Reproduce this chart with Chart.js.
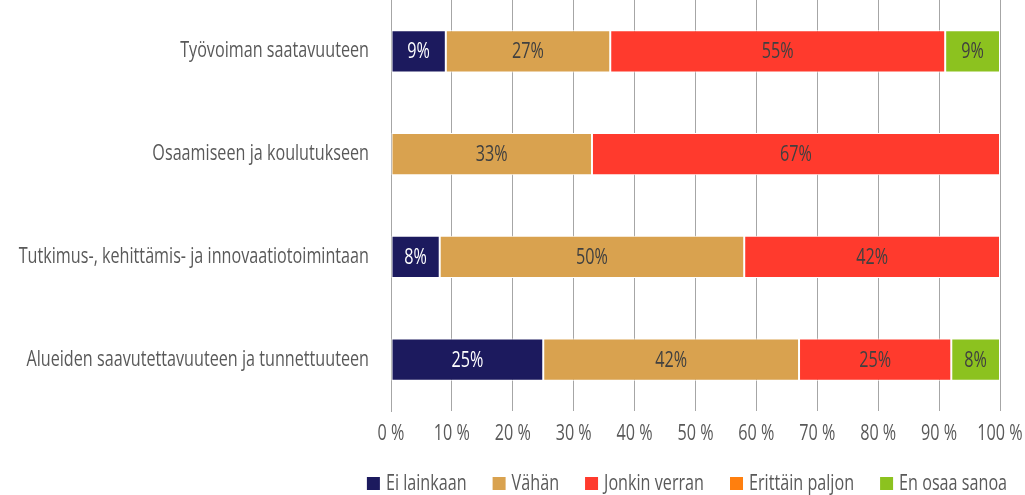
<!DOCTYPE html>
<html>
<head>
<meta charset="utf-8">
<script src="https://cdn.jsdelivr.net/npm/chart.js@4/dist/chart.umd.min.js"></script>
<style>
  html, body { margin: 0; padding: 0; background: #fff; }
  #wrap { width: 1025px; height: 495px; }
</style>
</head>
<body>
<div id="wrap"><canvas id="chart"></canvas></div>
<script>
const categories = [
  'Työvoiman saatavuuteen',
  'Osaamiseen ja koulutukseen',
  'Tutkimus-, kehittämis- ja innovaatiotoimintaan',
  'Alueiden saavutettavuuteen ja tunnettuuteen'
];
const seriesNames = ['Ei lainkaan', 'Vähän', 'Jonkin verran', 'Erittäin paljon', 'En osaa sanoa'];
const eiLainkaan = [9, 0, 8, 25];
const vahan = [27, 33, 50, 42];
const jonkinVerran = [55, 67, 42, 25];
const erittainPaljon = [0, 0, 0, 0];
const enOsaaSanoa = [9, 0, 0, 8];
const xTicks = [0, 10, 20, 30, 40, 50, 60, 70, 80, 90, 100];

const colors = ['#1c1a5e', '#d9a24f', '#ff3a2d', '#ff7f0e', '#8cc21f'];
const labelColors = ['#ffffff', '#404040', '#404040', '#404040', '#404040'];
const TEXT = '#595959';
const FONT = "'Open Sans', sans-serif";
const SIZE = 21;
const SX = 0.77; // horizontal squeeze, the original uses a condensed face

function drawText(ctx, text, x, y, align, size, color) {
  ctx.save();
  ctx.font = size + 'px ' + FONT;
  ctx.fillStyle = color;
  ctx.textAlign = align;
  ctx.textBaseline = 'middle';
  ctx.translate(x, y);
  ctx.scale(SX, 1);
  ctx.fillText(text, 0, 0);
  ctx.restore();
}

function textWidth(ctx, text, size) {
  ctx.save();
  ctx.font = size + 'px ' + FONT;
  const w = ctx.measureText(text).width * SX;
  ctx.restore();
  return w;
}

// axis labels, bar values and legend drawn with the squeezed text
const textLayer = {
  id: 'textLayer',
  afterDraw(chart) {
    const ctx = chart.ctx;
    const xs = chart.scales.x;
    const ys = chart.scales.y;

    chart.data.labels.forEach((lab, i) => {
      drawText(ctx, lab, ys.right - 22, ys.getPixelForTick(i), 'right', SIZE, TEXT);
    });

    xTicks.forEach(v => {
      drawText(ctx, v + ' %', xs.getPixelForValue(v), 434, 'center', SIZE, TEXT);
    });

    chart.data.datasets.forEach((ds, i) => {
      chart.getDatasetMeta(i).data.forEach((bar, j) => {
        const v = ds.data[j];
        if (!v) return;
        const mid = (bar.x + bar.base) / 2;
        drawText(ctx, v + '%', mid, bar.y + 1, 'center', SIZE, labelColors[i]);
      });
    });

    // legend
    const box = 13, gapText = 6, gapItem = 26;
    const widths = seriesNames.map(n => textWidth(ctx, n, SIZE));
    const total = widths.reduce((s, w) => s + box + gapText + w, 0) + gapItem * (seriesNames.length - 1);
    let x = 687 - total / 2;
    seriesNames.forEach((n, i) => {
      ctx.fillStyle = colors[i];
      ctx.fillRect(x, 477, box, box);
      drawText(ctx, n, x + box + gapText, 484, 'left', SIZE, TEXT);
      x += box + gapText + widths[i] + gapItem;
    });
  }
};

const allSeries = [eiLainkaan, vahan, jonkinVerran, erittainPaljon, enOsaaSanoa];

new Chart(document.getElementById('chart'), {
  type: 'bar',
  data: {
    labels: categories,
    datasets: allSeries.map((d, i) => ({
      label: seriesNames[i],
      data: d,
      backgroundColor: colors[i],
      borderColor: '#ffffff',
      borderWidth: 1,
      borderSkipped: false,
      barPercentage: 0.41,
      categoryPercentage: 1
    }))
  },
  options: {
    indexAxis: 'y',
    responsive: true,
    maintainAspectRatio: false,
    animation: false,
    layout: { padding: { top: 0, right: 25, left: 0, bottom: 0 } },
    scales: {
      x: {
        stacked: true,
        min: 0,
        max: 100,
        afterBuildTicks(scale) { scale.ticks = xTicks.map(v => ({ value: v })); },
        afterFit(scale) {
          scale.height = 84;
          scale.paddingLeft = 0;
          scale.paddingRight = 0;
        },
        ticks: { display: false },
        grid: { color: '#a6a6a6', lineWidth: 1, drawTicks: false },
        border: { display: false }
      },
      y: {
        stacked: true,
        afterFit(scale) {
          scale.width = 391;
          scale.paddingTop = 0;
          scale.paddingBottom = 0;
        },
        ticks: { display: false },
        grid: { display: false },
        border: { display: true, color: '#a6a6a6' }
      }
    },
    plugins: {
      legend: { display: false },
      tooltip: { enabled: false }
    }
  },
  plugins: [textLayer]
});
</script>
</body>
</html>
